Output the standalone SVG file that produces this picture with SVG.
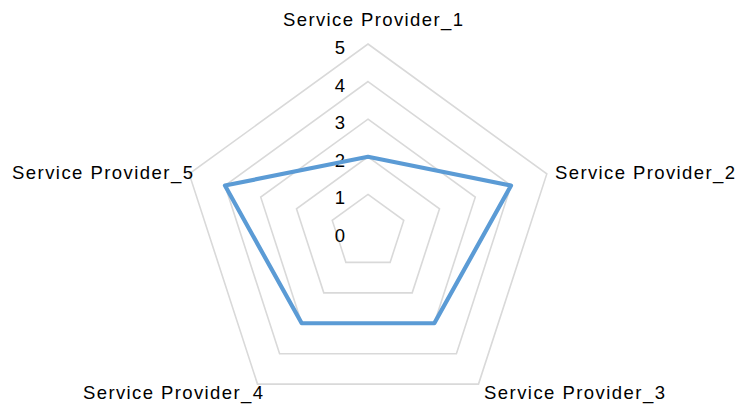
<svg xmlns="http://www.w3.org/2000/svg" width="741" height="410" viewBox="0 0 741 410">
<style>
.grid{fill:none;stroke:#d9d9d9;stroke-width:1.6;stroke-linejoin:miter}
.series{fill:none;stroke:#5b9bd5;stroke-width:4.2;stroke-linejoin:round}
.lbl{font-family:"Liberation Sans",Arial,sans-serif;font-size:18.5px;fill:#000}
.tick{font-family:"Liberation Sans",Arial,sans-serif;font-size:18.5px;fill:#000;text-anchor:middle}
</style>
<rect width="741" height="410" fill="#fff"/>
<g id="gridlines">
<polygon class="grid" points="368,194.4 403.76,220.38 390.1,262.42 345.9,262.42 332.24,220.38"/>
<polygon class="grid" points="368,156.8 439.52,208.76 412.2,292.84 323.8,292.84 296.48,208.76"/>
<polygon class="grid" points="368,119.2 475.28,197.14 434.3,323.26 301.7,323.26 260.72,197.14"/>
<polygon class="grid" points="368,81.6 511.04,185.52 456.4,353.68 279.6,353.68 224.96,185.52"/>
<polygon class="grid" points="368,44 546.8,173.9 478.5,384.1 257.5,384.1 189.2,173.9"/>
</g>
<g id="ticks">
<text class="tick" x="340" y="242">0</text>
<text class="tick" x="340" y="204.4">1</text>
<text class="tick" x="340" y="166.8">2</text>
<text class="tick" x="340" y="129.2">3</text>
<text class="tick" x="340" y="91.6">4</text>
<text class="tick" x="340" y="54">5</text>
</g>
<g id="connectors">
<polygon class="series" points="368,156.8 511.04,185.52 434.3,323.26 301.7,323.26 224.96,185.52"/>
</g>
<g id="sp1"><text class="lbl" x="283" y="25.5" textLength="180" lengthAdjust="spacing">Service Provider_1</text></g>
<g id="sp2"><text class="lbl" x="555" y="178.5" textLength="180" lengthAdjust="spacing">Service Provider_2</text></g>
<g id="sp3"><text class="lbl" x="484" y="398.5" textLength="181" lengthAdjust="spacing">Service Provider_3</text></g>
<g id="sp4"><text class="lbl" x="83" y="398.5" textLength="180" lengthAdjust="spacing">Service Provider_4</text></g>
<g id="sp5"><text class="lbl" x="12" y="178.5" textLength="181" lengthAdjust="spacing">Service Provider_5</text></g>
</svg>
